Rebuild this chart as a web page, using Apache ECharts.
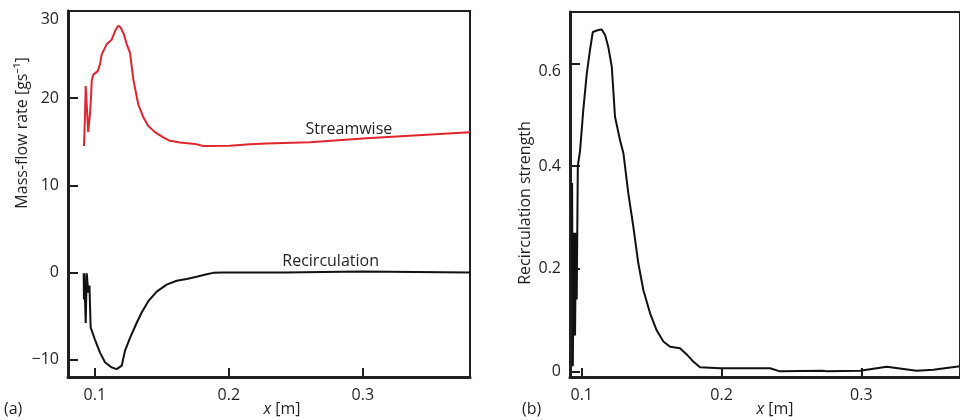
<!DOCTYPE html>
<html>
<head>
<meta charset="utf-8">
<script src="https://cdn.jsdelivr.net/npm/echarts@6/dist/echarts.min.js"></script>
<style>
  html, body { margin: 0; padding: 0; background: #fff; }
  #chart { width: 960px; height: 420px; }
</style>
</head>
<body>
<div id="chart"></div>
<script>
// (a) mass-flow rate along x
const streamX = [0.0919, 0.0927, 0.0932, 0.0940, 0.0951, 0.0964, 0.0972, 0.0977, 0.0989, 0.1022,
  0.1039, 0.1051, 0.1089, 0.1126, 0.1151, 0.1175, 0.1193, 0.1218, 0.1238, 0.1263,
  0.1287, 0.1324, 0.1362, 0.1399, 0.1449, 0.1511, 0.1561, 0.1636, 0.1748, 0.1809,
  0.2009, 0.2158, 0.2282, 0.2605, 0.3028, 0.3799];
const streamY = [14.5, 18.0, 21.4, 21.3, 16.1, 18.2, 20.1, 22.0, 22.7, 23.1,
  23.9, 25.0, 26.2, 26.7, 27.7, 28.3, 28.1, 27.3, 26.2, 25.2,
  22.2, 19.3, 17.8, 16.8, 16.1, 15.5, 15.1, 14.9, 14.75, 14.5,
  14.55, 14.7, 14.8, 14.95, 15.4, 16.1];

const recircX = [0.0917, 0.0919, 0.0922, 0.0930, 0.0932, 0.0936, 0.0940, 0.0949, 0.0951, 0.0960,
  0.0969, 0.1001, 0.1039, 0.1076, 0.1126, 0.1163, 0.1175, 0.1201, 0.1225, 0.1263,
  0.1312, 0.1350, 0.1399, 0.1462, 0.1536, 0.1611, 0.1686, 0.1760, 0.1835, 0.1884,
  0.1950, 0.2419, 0.2425, 0.2985, 0.2991, 0.3800];
const recircY = [-0.1, -3.1, -0.1, -0.1, -5.8, -5.6, -0.1, -0.2, -2.3, -1.5,
  -6.3, -7.7, -9.2, -10.3, -10.9, -11.1, -11.1, -10.7, -9.0, -7.5,
  -5.8, -4.6, -3.3, -2.2, -1.4, -0.95, -0.75, -0.5, -0.2, -0.05,
  0, 0, 0.1, 0.1, 0, 0];

// (b) recirculation strength along x
const strengthX = [0.0928, 0.0931, 0.0936, 0.0945, 0.0952, 0.0959, 0.0964, 0.0972, 0.0988, 0.1011,
  0.1036, 0.1059, 0.1079, 0.1119, 0.1143, 0.1167, 0.1190, 0.1215, 0.1238, 0.1274,
  0.1298, 0.1333, 0.1369, 0.1405, 0.1441, 0.1489, 0.1536, 0.1584, 0.1632, 0.1703,
  0.1751, 0.1798, 0.1846, 0.1989, 0.2180, 0.2347, 0.2418, 0.2717, 0.2753, 0.2991,
  0.3182, 0.3396, 0.3515, 0.3706];
const strengthY = [0.20, 0.367, 0.01, 0.27, 0.07, 0.27, 0.14, 0.40, 0.43, 0.509,
  0.580, 0.626, 0.661, 0.665, 0.666, 0.655, 0.632, 0.593, 0.496, 0.450,
  0.425, 0.347, 0.282, 0.210, 0.158, 0.113, 0.080, 0.058, 0.048, 0.045,
  0.033, 0.019, 0.008, 0.006, 0.006, 0.006, 0.000, 0.001, 0.000, 0.001,
  0.009, 0.001, 0.003, 0.010];

const xTicksA = [0.1, 0.2, 0.3];
const yTicksA = [-10, 0, 10, 20, 30];
const xTicksB = [0.1, 0.2, 0.3];
const yTicksB = [0, 0.2, 0.4, 0.6];

const FONT = '"Open Sans", "Noto Sans", sans-serif';
const INK = '#231f20';
const FS = 16;

function pairs(xs, ys) { return xs.map((x, i) => [x, ys[i]]); }

function xAxisFor(grid, min, max, ticks) {
  return {
    type: 'value', gridIndex: grid, min: min, max: max,
    splitLine: { show: false },
    axisLine: { show: true, onZero: false, lineStyle: { color: INK, width: 3 } },
    axisTick: { show: true, inside: true, length: 9, customValues: ticks, lineStyle: { color: INK, width: 2 } },
    axisLabel: { customValues: ticks, margin: 10, color: INK, fontSize: FS, fontFamily: FONT,
      formatter: v => String(v) }
  };
}
function yAxisFor(grid, min, max, ticks, fmt) {
  return {
    type: 'value', gridIndex: grid, min: min, max: max,
    splitLine: { show: false },
    axisLine: { show: true, onZero: false, lineStyle: { color: INK, width: 3 } },
    axisTick: { show: true, inside: true, length: 10, customValues: ticks, lineStyle: { color: INK, width: 2 } },
    axisLabel: { customValues: ticks, margin: 9, color: INK, fontSize: FS, fontFamily: FONT,
      verticalAlignMaxLabel: 'top', formatter: fmt }
  };
}

const chart = echarts.init(document.getElementById('chart'), null, { renderer: 'canvas' });

chart.setOption({
  animation: false,
  backgroundColor: '#fff',
  grid: [
    { left: 68, top: 11, width: 402, height: 366, show: true, borderColor: INK, borderWidth: 2 },
    { left: 570, top: 12, width: 394, height: 365, show: true, borderColor: INK, borderWidth: 2 }
  ],
  xAxis: [
    xAxisFor(0, 0.08, 0.38, xTicksA),
    xAxisFor(1, 0.0916, 0.3706, xTicksB)
  ],
  yAxis: [
    yAxisFor(0, -12, 30, yTicksA, v => (v < 0 ? '\u2212' + Math.abs(v) : String(v))),
    yAxisFor(1, -0.011, 0.7, yTicksB, v => String(v))
  ],
  series: [
    {
      name: 'Streamwise', type: 'line', xAxisIndex: 0, yAxisIndex: 0,
      data: pairs(streamX, streamY), showSymbol: false, symbol: 'none',
      lineStyle: { color: '#e0262c', width: 2 },
      markPoint: {
        symbol: 'circle', symbolSize: 0,
        data: [{ coord: [0.2896, 16.4], value: 'Streamwise' }],
        label: { show: true, position: 'inside', formatter: 'Streamwise',
          color: INK, fontSize: FS, fontFamily: FONT }
      }
    },
    {
      name: 'Recirculation', type: 'line', xAxisIndex: 0, yAxisIndex: 0,
      data: pairs(recircX, recircY), showSymbol: false, symbol: 'none',
      lineStyle: { color: '#111', width: 2 },
      markPoint: {
        symbol: 'circle', symbolSize: 0,
        data: [{ coord: [0.276, 1.3], value: 'Recirculation' }],
        label: { show: true, position: 'inside', formatter: 'Recirculation',
          color: INK, fontSize: FS, fontFamily: FONT }
      }
    },
    {
      name: 'Recirculation strength', type: 'line', xAxisIndex: 1, yAxisIndex: 1,
      data: pairs(strengthX, strengthY), showSymbol: false, symbol: 'none',
      lineStyle: { color: '#111', width: 2 }
    }
  ],
  graphic: [
    { type: 'text', x: 22, y: 133, rotation: Math.PI / 2,
      style: { text: 'Mass-flow rate [gs\u207B\u00B9]', fill: INK, font: FS + 'px ' + FONT,
        align: 'center', verticalAlign: 'middle' } },
    { type: 'text', x: 525, y: 203, rotation: Math.PI / 2,
      style: { text: 'Recirculation strength', fill: INK, font: FS + 'px ' + FONT,
        align: 'center', verticalAlign: 'middle' } },
    { type: 'text', x: 282, y: 409,
      style: { text: '{i|x} [m]', align: 'center', verticalAlign: 'middle',
        rich: { i: { fontStyle: 'italic', fontSize: FS, fontFamily: FONT, fill: INK } },
        fill: INK, font: FS + 'px ' + FONT } },
    { type: 'text', x: 775, y: 409,
      style: { text: '{i|x} [m]', align: 'center', verticalAlign: 'middle',
        rich: { i: { fontStyle: 'italic', fontSize: FS, fontFamily: FONT, fill: INK } },
        fill: INK, font: FS + 'px ' + FONT } },
    { type: 'text', x: 4, y: 409,
      style: { text: '(a)', fill: INK, font: FS + 'px ' + FONT, verticalAlign: 'middle' } },
    { type: 'text', x: 522, y: 409,
      style: { text: '(b)', fill: INK, font: FS + 'px ' + FONT, verticalAlign: 'middle' } }
  ]
});
</script>
</body>
</html>
